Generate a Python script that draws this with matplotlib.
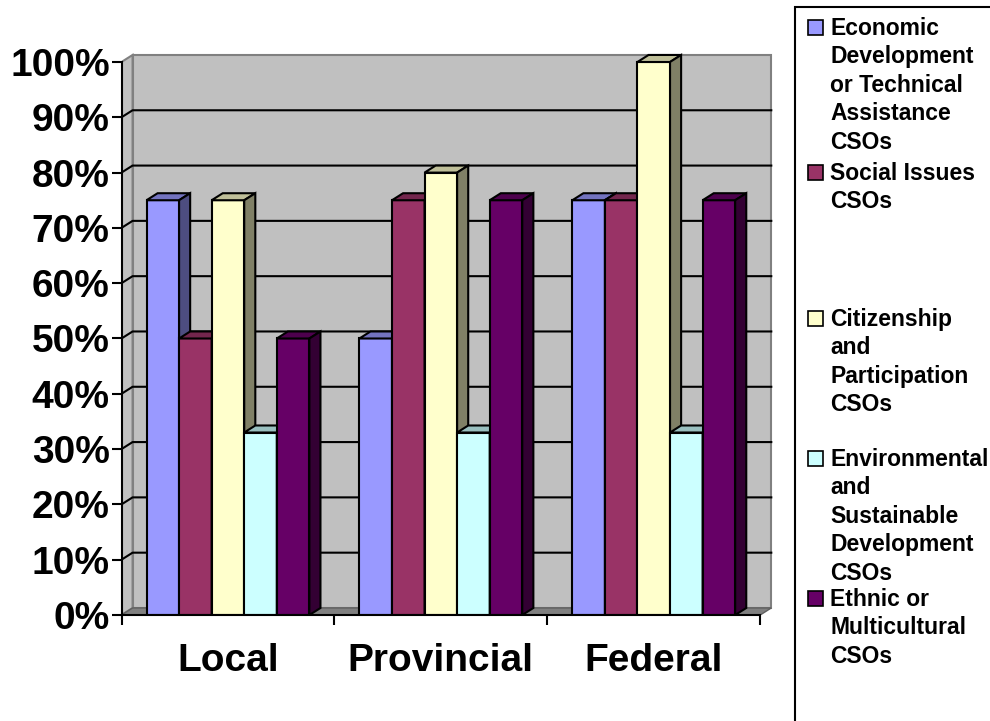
"""
3D-style clustered column chart of CSO types by level of government,
drawn with plain matplotlib patches to mimic the old Excel look.
"""
import numpy as np
import matplotlib.pyplot as plt
from matplotlib.patches import Polygon, Rectangle
from matplotlib.colors import to_rgb
from matplotlib.ticker import PercentFormatter

# --- data ---------------------------------------------------------------
categories = ['Local', 'Provincial', 'Federal']

series_labels = [
    'Economic\nDevelopment\nor Technical\nAssistance\nCSOs',
    'Social Issues\nCSOs',
    'Citizenship\nand\nParticipation\nCSOs',
    'Environmental\nand\nSustainable\nDevelopment\nCSOs',
    'Ethnic or\nMulticultural\nCSOs',
]
economic = [0.75, 0.50, 0.75]
social = [0.50, 0.75, 0.75]
citizenship = [0.75, 0.80, 1.00]
environmental = [0.33, 0.33, 0.33]
ethnic = [0.50, 0.75, 0.75]
series_values = [economic, social, citizenship, environmental, ethnic]
series_colors = ['#9999FF', '#993366', '#FFFFCC', '#CCFFFF', '#660066']

y_ticks = [0.0, 0.1, 0.2, 0.3, 0.4, 0.5, 0.6, 0.7, 0.8, 0.9, 1.0]

# --- figure -------------------------------------------------------------
plt.rcParams['font.family'] = ['Liberation Sans', 'DejaVu Sans']
plt.rcParams['font.weight'] = 'bold'

W, H = 990, 721
fig = plt.figure(figsize=(W / 100, H / 100), dpi=100)
ax = fig.add_axes([121.5 / W, 106 / H, 660 / W, 569.6 / H])
ax.set_xlim(-0.5, 2.6)
ax.set_ylim(0, 1.03)

dx, dy = 0.052, 0.0127  # depth offset of the 3D effect (data units)
x0, x1 = -0.5, len(categories) - 0.5

# back wall, side wall, floor
ax.add_patch(Polygon([(x0 + dx, dy), (x1 + dx, dy), (x1 + dx, 1 + dy), (x0 + dx, 1 + dy)],
                     closed=True, facecolor='#C0C0C0', edgecolor='#808080', lw=1.5, zorder=0))
ax.add_patch(Polygon([(x0, 0), (x0 + dx, dy), (x0 + dx, 1 + dy), (x0, 1)],
                     closed=True, facecolor='#C0C0C0', edgecolor='#808080', lw=1.5, zorder=0.5))
ax.add_patch(Polygon([(x0, 0), (x1, 0), (x1 + dx, dy), (x0 + dx, dy)],
                     closed=True, facecolor='#808080', edgecolor='#606060', lw=1, zorder=0.6))

# gridlines on the walls
for t in y_ticks[1:-1]:
    ax.plot([x0, x0 + dx, x1 + dx], [t, t + dy, t + dy], color='black', lw=1.5, zorder=1)

# bars (front, top, side), drawn left to right so overlaps come out right
bar_w = 0.153
n = len(series_values)
pos = np.arange(len(categories))
for j, (vals, col) in enumerate(zip(series_values, series_colors)):
    rgb = np.array(to_rgb(col))
    top_c = rgb * 0.75
    side_c = rgb * 0.5
    for i, v in enumerate(vals):
        left = pos[i] - n * bar_w / 2 + j * bar_w
        right = left + bar_w
        ax.add_patch(Rectangle((left, 0), bar_w, v, facecolor=col,
                               edgecolor='black', lw=1.5, zorder=2))
        ax.add_patch(Polygon([(left, v), (right, v), (right + dx, v + dy), (left + dx, v + dy)],
                             closed=True, facecolor=top_c, edgecolor='black', lw=1.5, zorder=2))
        ax.add_patch(Polygon([(right, 0), (right + dx, dy), (right + dx, v + dy), (right, v)],
                             closed=True, facecolor=side_c, edgecolor='black', lw=1.5, zorder=2))

# axes styling
for side in ['top', 'right']:
    ax.spines[side].set_visible(False)
ax.spines['left'].set_bounds(0, 1)
ax.spines['bottom'].set_bounds(x0, x1)
for side in ['left', 'bottom']:
    ax.spines[side].set_linewidth(1.5)
    ax.spines[side].set_zorder(3)

ax.set_yticks(y_ticks)
ax.yaxis.set_major_formatter(PercentFormatter(1.0, decimals=0))
ax.tick_params(axis='y', length=7.5, width=1.5, pad=1, labelsize=28)

ax.set_xticks(pos, categories)
ax.set_xticks(np.arange(len(categories) + 1) - 0.5, minor=True)
ax.tick_params(axis='x', which='major', length=0, pad=20, labelsize=28)
ax.tick_params(axis='x', which='minor', length=7.5, width=1.5)

# legend, drawn by hand to keep the wide Excel spacing
fig.patches.append(Rectangle((795 / W, -0.1), 0.4, 1.1 - 7 / H, transform=fig.transFigure,
                             fill=False, edgecolor='black', lw=1.5))
entry_centers = [27, 172, 318, 458, 598]  # px from top of figure
for label, col, cy in zip(series_labels, series_colors, entry_centers):
    fig.patches.append(Rectangle((808 / W, 1 - (cy + 7.5) / H), 15 / W, 15 / H,
                                 transform=fig.transFigure, facecolor=col,
                                 edgecolor='black', lw=1.2))
    fig.text(830 / W, 1 - (cy - 10) / H, label, ha='left', va='top',
             fontsize=16.5, fontweight='bold', linespacing=1.30)

fig.savefig('out.png', dpi=100)
